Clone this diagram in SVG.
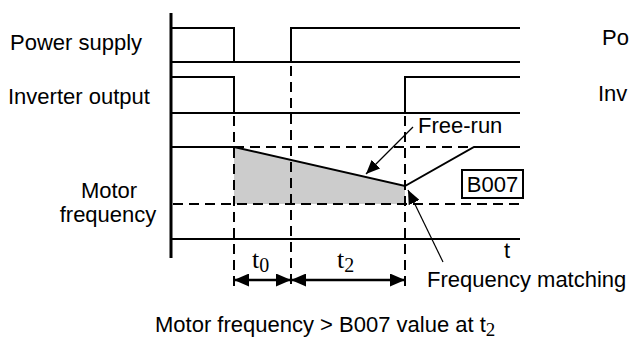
<svg xmlns="http://www.w3.org/2000/svg" width="629" height="341" viewBox="0 0 629 341">
<style>
.lbl{font-family:"Liberation Sans",Arial,sans-serif;font-size:22px;fill:#000}
.tt{font-family:"Liberation Serif","Times New Roman",serif;fill:#000}
.sol{stroke:#000;stroke-width:2;fill:none}
.dsh{stroke:#000;stroke-width:2;fill:none;stroke-dasharray:10 6}
.thin{stroke:#000;stroke-width:1.2;fill:none}
</style>
<defs>
<marker id="ah" markerUnits="userSpaceOnUse" markerWidth="16" markerHeight="13" refX="15" refY="6.5" orient="auto-start-reverse">
<path d="M0,0 L15,6.5 L0,13 z" fill="#000"/>
</marker>
<marker id="ah2" markerUnits="userSpaceOnUse" markerWidth="15" markerHeight="12" refX="14" refY="6" orient="auto">
<path d="M0,0 L14,6 L0,12 z" fill="#000"/>
</marker>
</defs>
<rect width="629" height="341" fill="#fff"/>

<g id="fill">
<polygon points="234,147 405,186 405,204 234,204" fill="#cccccc"/>
</g>

<g id="guides">
<line class="dsh" x1="234" y1="116" x2="234" y2="286"/>
<line class="dsh" x1="291" y1="66" x2="291" y2="286"/>
<line class="dsh" x1="405" y1="116" x2="405" y2="286"/>
<line class="dsh" x1="234" y1="147" x2="522" y2="147"/>
<line class="dsh" x1="173" y1="204" x2="524" y2="204"/>
</g>

<g id="axis">
<line x1="171" y1="13" x2="171" y2="258" stroke="#000" stroke-width="3"/>
<line class="sol" x1="171" y1="239" x2="520" y2="239"/>
</g>

<g id="power-supply">
<polyline class="sol" points="171,28 234,28 234,62"/>
<line class="sol" x1="171" y1="62" x2="520" y2="62"/>
<polyline class="sol" points="291,62 291,28 520,28"/>
</g>

<g id="inverter-output">
<polyline class="sol" points="171,77 234,77 234,113"/>
<line class="sol" x1="171" y1="113" x2="520" y2="113"/>
<polyline class="sol" points="405,113 405,77 520,77"/>
</g>

<g id="motor-frequency">
<polyline class="sol" points="171,147 234,147 405,186 474,147 520,147"/>
</g>

<g id="b007">
<rect x="462" y="170" width="61" height="28" fill="#fff" stroke="#000" stroke-width="2"/>
<text class="lbl" x="492.5" y="192" text-anchor="middle">B007</text>
</g>

<g id="connectors">
<line class="thin" x1="413" y1="127" x2="366" y2="174" marker-end="url(#ah2)"/>
<line class="thin" x1="443" y1="262" x2="408" y2="190" marker-end="url(#ah2)"/>
<line x1="234" y1="280" x2="291" y2="280" stroke="#000" stroke-width="2.5" marker-start="url(#ah)" marker-end="url(#ah)"/>
<line x1="291" y1="280" x2="405" y2="280" stroke="#000" stroke-width="2.5" marker-start="url(#ah)" marker-end="url(#ah)"/>
</g>

<g id="labels">
<text class="lbl" x="10" y="50">Power supply</text>
<text class="lbl" x="8" y="104">Inverter output</text>
<text class="lbl" x="109" y="198" text-anchor="middle">Motor</text>
<text class="lbl" x="108" y="222" text-anchor="middle">frequency</text>
<text class="lbl" x="418" y="133">Free-run</text>
<text class="lbl" x="504" y="258">t</text>
<text class="lbl" x="427" y="287">Frequency matching</text>
<text class="tt" x="252" y="268" font-size="26">t<tspan font-size="20" dy="4">0</tspan></text>
<text class="tt" x="337" y="268" font-size="26">t<tspan font-size="20" dy="4">2</tspan></text>
<text class="lbl" x="155" y="332">Motor frequency &gt; B007 value at t<tspan class="tt" font-size="19" dy="4">2</tspan></text>
<text class="lbl" x="602" y="45">Po</text>
<text class="lbl" x="598" y="101">Inv</text>
</g>
</svg>
